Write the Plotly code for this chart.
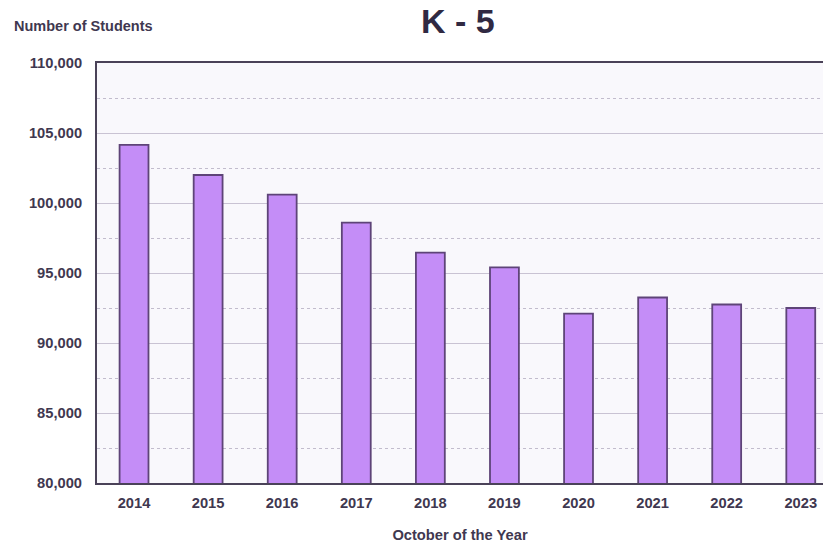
import plotly.graph_objects as go

years = ["2014", "2015", "2016", "2017", "2018", "2019", "2020", "2021", "2022", "2023"]
students = [104150, 102000, 100600, 98600, 96450, 95400, 92100, 93250, 92750, 92500]

text_col = "#3f3850"
font_family = "Liberation Sans, Arial, sans-serif"

plot_left, plot_width = 97, 726  # pixel geometry of the plotting area

fig = go.Figure(
    go.Bar(
        x=list(range(len(years))),
        y=students,
        width=0.39,
        marker=dict(color="#c48df7", line=dict(color="#5e4478", width=1.8)),
    )
)

fig.update_layout(
    width=823,
    height=545,
    margin=dict(l=plot_left, r=0, t=63, b=62),
    paper_bgcolor="white",
    plot_bgcolor="#f9f8fc",
    showlegend=False,
    font=dict(family=font_family, color=text_col),
    annotations=[
        dict(text="<b>K - 5</b>", x=(458 - plot_left) / plot_width, y=1.0,
             xref="paper", yref="paper", xanchor="center", yanchor="middle",
             yshift=42, showarrow=False,
             font=dict(size=34, color="#302942", family=font_family)),
        dict(text="<b>Number of Students</b>", x=(12 - plot_left) / plot_width, y=1.0,
             xref="paper", yref="paper", xanchor="left", yanchor="middle",
             yshift=37, showarrow=False,
             font=dict(size=14.5, color=text_col, family=font_family)),
    ],
)

fig.update_xaxes(
    range=[-0.5, 9.3],
    tickmode="array",
    tickvals=list(range(len(years))),
    ticktext=[f"<b>{y}</b>" for y in years],
    tickfont=dict(size=14.7, color=text_col),
    ticks="outside",
    ticklen=5,
    tickcolor="rgba(0,0,0,0)",
    showline=True,
    linecolor="#4a4258",
    linewidth=2,
    mirror=True,
    showgrid=False,
    title=dict(text="<b>October of the Year</b>", font=dict(size=14.7, color=text_col), standoff=20),
)
fig.update_yaxes(
    range=[80000, 110000],
    tick0=80000,
    dtick=5000,
    tickformat=",d",
    tickprefix="<b>",
    ticksuffix="</b>",
    tickfont=dict(size=14.7, color=text_col),
    ticks="outside",
    ticklen=10,
    tickcolor="rgba(0,0,0,0)",
    showline=True,
    linecolor="#4a4258",
    linewidth=2,
    showgrid=True,
    gridcolor="#c9c3d3",
    gridwidth=1,
    zeroline=False,
    minor=dict(tick0=82500, dtick=5000, showgrid=True, gridcolor="#c2bccd",
               griddash="dot", gridwidth=1),
)

fig.write_html("out.html")
